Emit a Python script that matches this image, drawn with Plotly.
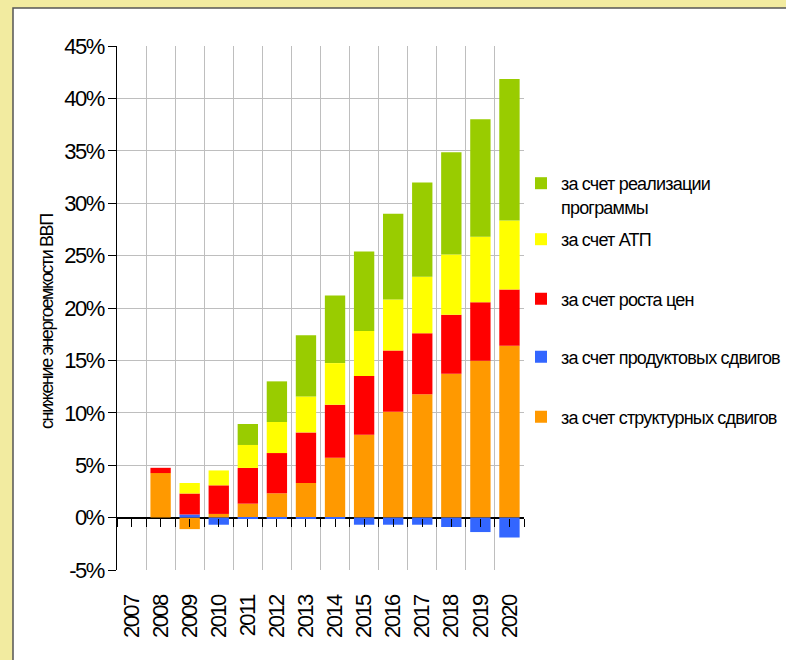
import numpy as np
import plotly.graph_objects as go

# Contribution of each factor to the reduction of GDP energy intensity, % (stacked)
years = [str(y) for y in range(2007, 2021)]
structural = [0, 4.25, -1.1, 0.35, 1.33, 2.32, 3.3, 5.72, 7.9, 10.1, 11.76, 13.73, 14.97, 16.4]
product = [0, 0, 0.3, -0.68, -0.1, -0.1, -0.1, -0.1, -0.68, -0.68, -0.68, -0.9, -1.38, -1.9]
prices = [0, 0.5, 2.0, 2.73, 3.41, 3.84, 4.83, 5.05, 5.6, 5.85, 5.84, 5.62, 5.59, 5.37]
atp = [0, 0, 1.0, 1.42, 2.19, 2.96, 3.43, 3.97, 4.3, 4.85, 5.37, 5.75, 6.24, 6.58]
programme = [0, 0, 0, 0, 2.0, 3.88, 5.84, 6.46, 7.6, 8.2, 9.0, 9.76, 11.2, 13.5]

y_ticks = [-5, 0, 5, 10, 15, 20, 25, 30, 35, 40, 45]

series = [
    ("за счет структурных сдвигов", structural, "#FF9900"),
    ("за счет продуктовых сдвигов", product, "#3366FF"),
    ("за счет роста цен", prices, "#FF0000"),
    ("за счет АТП", atp, "#FFFF00"),
    ("за счет реализации<br>программы", programme, "#99CC00"),
]

FONT = "Liberation Sans, Arial, sans-serif"


def tight(text, spacing):
    """Wrap each line of a label in a span with tightened letter spacing."""
    return "<br>".join(f'<span style="letter-spacing:{spacing}px">{part}</span>'
                       for part in text.split("<br>"))


# legend rows (pixel centre of each swatch, bottom series first)
legend_rows_px = [417, 357, 299, 239.5, 183]
plot_top, plot_bottom = 46, 570
plot_left, plot_right = 117, 524
plot_h = plot_bottom - plot_top
plot_w = plot_right - plot_left

fig = go.Figure()
legends = {}
for i, (name, vals, color) in enumerate(series):
    key = "legend" if i == 0 else f"legend{i + 1}"
    fig.add_trace(go.Bar(
        x=years, y=vals, name=tight(name, -0.8),
        marker=dict(color=color, line=dict(width=0)),
        legend=key,
    ))
    ypx = legend_rows_px[i]
    two_line = "<br>" in name
    legends[key] = dict(
        x=(521 - plot_left) / plot_w, xanchor="left",
        y=(plot_bottom - ypx - (12 if two_line else 0)) / plot_h,
        yanchor="middle",
        valign="top",
        bgcolor="rgba(0,0,0,0)",
        font=dict(family=FONT, size=18, color="black"),
        itemclick=False, itemdoubleclick=False,
    )

# helper trace so the tick-mark axis on the zero line is drawn
fig.add_trace(go.Scatter(x=[None], y=[None], xaxis="x2", yaxis="y",
                         showlegend=False, hoverinfo="skip"))

n = len(years)
fig.update_layout(
    width=786, height=660,
    barmode="relative", bargap=0.3,
    paper_bgcolor="#F2EBA0", plot_bgcolor="white",
    margin=dict(l=plot_left, r=786 - plot_right, t=plot_top, b=660 - plot_bottom,
                autoexpand=False),
    font=dict(family=FONT, color="black"),
    xaxis=dict(
        type="category", categoryorder="array", categoryarray=years,
        range=[-0.5, n - 0.5], tickmode="array", tickvals=years,
        ticktext=[tight(y, -1.6) for y in years],
        tickson="boundaries", ticks="",
        showgrid=True, gridcolor="#BEBEBE", gridwidth=1,
        tickangle=-90, tickfont=dict(family=FONT, size=22, color="black"),
        ticklabelstandoff=20, showline=False, zeroline=False, automargin=False,
    ),
    xaxis2=dict(
        overlaying="x", anchor="free", position=0.1, type="linear",
        range=[-0.5, n - 0.5], tickmode="array",
        tickvals=list(np.arange(-0.5, n - 0.49, 0.5)),
        ticks="outside", ticklen=8, tickcolor="black", tickwidth=1,
        showticklabels=False, showgrid=False, zeroline=False, showline=False,
    ),
    yaxis=dict(
        range=[-5, 45], tickmode="array", tickvals=y_ticks,
        ticktext=[tight(f"{v}%", -1.6) for v in y_ticks],
        showline=True, linecolor="black", linewidth=1,
        ticks="outside", ticklen=8, tickcolor="black",
        showgrid=True, gridcolor="#BEBEBE", gridwidth=1,
        zeroline=True, zerolinecolor="black", zerolinewidth=1.5,
        tickfont=dict(family=FONT, size=22, color="black"), automargin=False,
    ),
    showlegend=True,
    **legends,
    annotations=[dict(
        text=tight("снижение энергоемкости ВВП", -1.4), textangle=-90,
        xref="paper", yref="paper",
        x=(47 - plot_left) / plot_w, y=(plot_bottom - 322) / plot_h,
        xanchor="center", yanchor="middle", showarrow=False,
        font=dict(family=FONT, size=18, color="black"),
    )],
    shapes=[dict(
        type="rect", xref="paper", yref="paper", layer="below",
        x0=(13 - plot_left) / plot_w, x1=3.0,
        y0=-1.0, y1=(plot_bottom - 8) / plot_h,
        fillcolor="white", line=dict(color="#555555", width=1.5),
    )],
)

fig.write_html("out.html")
